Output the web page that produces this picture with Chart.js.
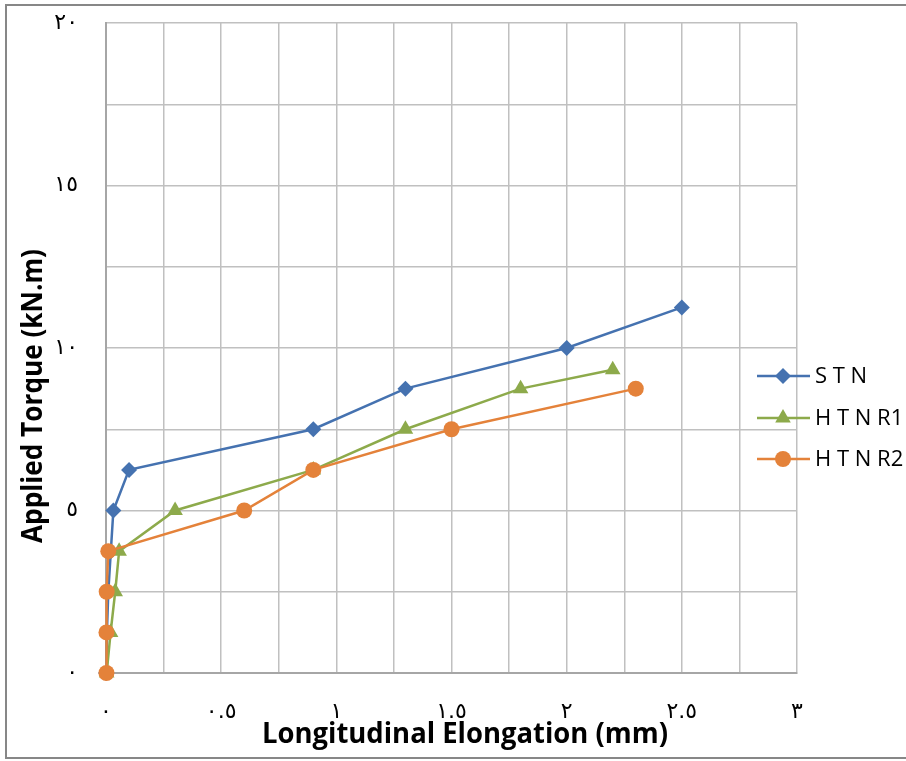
<!DOCTYPE html>
<html>
<head>
<meta charset="utf-8">
<script src="https://cdn.jsdelivr.net/npm/chart.js@4.4.1/dist/chart.umd.min.js"></script>
<style>
  html, body { margin: 0; padding: 0; background: #fff; }
  #wrap { width: 906px; height: 761px; position: relative; }
</style>
</head>
<body>
<div id="wrap"><canvas id="torqueChart"></canvas></div>
<script>
// values
const seriesNames = ['S T N', 'H T N R1', 'H T N R2'];

const stnX = [0, 0.004, 0.01, 0.021, 0.032, 0.1, 0.9, 1.3, 2.0, 2.5];
const stnY = [0, 1.25, 2.5, 3.75, 5, 6.25, 7.5, 8.75, 10, 11.25];

const htnr1X = [0.003, 0.02, 0.04, 0.057, 0.3, 0.9, 1.3, 1.8, 2.2];
const htnr1Y = [0, 1.25, 2.5, 3.75, 5, 6.25, 7.5, 8.75, 9.33];

const htnr2X = [0.002, 0.002, 0.003, 0.01, 0.6, 0.9, 1.5, 2.3];
const htnr2Y = [0, 1.25, 2.5, 3.75, 5, 6.25, 7.5, 8.75];

const xTickValues = [0, 0.5, 1, 1.5, 2, 2.5, 3];
const xTickLabels = ['٠', '٠.٥', '١', '١.٥', '٢', '٢.٥', '٣'];
const yTickValues = [0, 5, 10, 15, 20];
const yTickLabels = ['٠', '٥', '١٠', '١٥', '٢٠'];

const xTitle = 'Longitudinal Elongation (mm)';
const yTitle = 'Applied Torque (kN.m)';

const toPoints = (xs, ys) => xs.map((x, i) => ({ x: x, y: ys[i] }));

function tickText(value, values, labels) {
    const i = values.findIndex(v => Math.abs(v - value) < 1e-6);
    return i >= 0 ? labels[i] : '';
}

// border, axis titles and legend drawn by hand so they sit where the reference has them
const extras = {
    id: 'extras',
    beforeDraw(chart) {
        const ctx = chart.ctx;
        ctx.save();
        ctx.strokeStyle = '#878787';
        ctx.lineWidth = 2;
        ctx.strokeRect(6, 5, 920, 753);
        ctx.restore();
    },
    afterDraw(chart) {
        const ctx = chart.ctx;
        ctx.save();
        ctx.fillStyle = '#000';
        ctx.font = 'bold 28px "Open Sans"';
        ctx.textAlign = 'center';
        ctx.textBaseline = 'alphabetic';
        ctx.fillText(xTitle, 465, 743, 406);

        ctx.translate(42, 396);
        ctx.rotate(-Math.PI / 2);
        ctx.fillText(yTitle, 0, 0, 294);
        ctx.restore();

        // legend
        ctx.save();
        const rowY = [376, 418, 459];
        chart.data.datasets.forEach((ds, i) => {
            const y = rowY[i];
            ctx.strokeStyle = ds.borderColor;
            ctx.lineWidth = ds.borderWidth;
            ctx.beginPath();
            ctx.moveTo(757, y);
            ctx.lineTo(810, y);
            ctx.stroke();
            ctx.fillStyle = ds.pointBackgroundColor;
            ctx.strokeStyle = ds.pointBorderColor;
            Chart.helpers.drawPoint(ctx, {
                pointStyle: ds.pointStyle,
                radius: ds.pointRadius,
                rotation: 0,
                borderWidth: 0
            }, 783, y);
            ctx.fillStyle = '#000';
            ctx.font = '22px "Open Sans"';
            ctx.textAlign = 'left';
            ctx.textBaseline = 'middle';
            ctx.fillText(seriesNames[i], 815, y + 1);
        });
        ctx.restore();
    }
};

const ctx = document.getElementById('torqueChart').getContext('2d');
const torqueChart = new Chart(ctx, {
    type: 'scatter',
    data: {
        datasets: [{
            label: seriesNames[0],
            data: toPoints(stnX, stnY),
            borderColor: '#4572B0',
            pointBackgroundColor: '#4572B0',
            pointBorderColor: '#4572B0',
            pointStyle: 'rectRot',
            pointRadius: 8,
            order: 3
        }, {
            label: seriesNames[1],
            data: toPoints(htnr1X, htnr1Y),
            borderColor: '#8DAA4B',
            pointBackgroundColor: '#8DAA4B',
            pointBorderColor: '#8DAA4B',
            pointStyle: 'triangle',
            pointRadius: 9,
            order: 2
        }, {
            label: seriesNames[2],
            data: toPoints(htnr2X, htnr2Y),
            borderColor: '#E4823A',
            pointBackgroundColor: '#E4823A',
            pointBorderColor: '#E4823A',
            pointStyle: 'circle',
            pointRadius: 8,
            order: 1
        }].map(ds => Object.assign(ds, {
            showLine: true,
            borderWidth: 2.5,
            pointBorderWidth: 0,
            pointHoverRadius: ds.pointRadius,
            tension: 0,
            clip: false
        }))
    },
    options: {
        responsive: true,
        maintainAspectRatio: false,
        animation: false,
        layout: {
            padding: { left: 0, top: 23, right: 109, bottom: 0 }
        },
        plugins: {
            legend: { display: false },
            tooltip: { enabled: false },
            title: { display: false }
        },
        scales: {
            x: {
                type: 'linear',
                min: 0,
                max: 3,
                afterFit(scale) {
                    scale.height = 88;
                    scale.paddingLeft = 0;
                    scale.paddingRight = 0;
                },
                border: { color: '#A6A6A6', width: 2 },
                grid: { color: '#C0C0C0', lineWidth: 1.5, drawTicks: false },
                ticks: {
                    stepSize: 0.25,
                    autoSkip: false,
                    maxRotation: 0,
                    padding: 26,
                    color: '#000',
                    font: { family: '"DejaVu Sans"', size: 22 },
                    callback: value => tickText(value, xTickValues, xTickLabels)
                }
            },
            y: {
                type: 'linear',
                min: 0,
                max: 20,
                afterFit(scale) {
                    scale.width = 106;
                    scale.paddingTop = 0;
                    scale.paddingBottom = 0;
                },
                border: { color: '#A6A6A6', width: 2 },
                grid: { color: '#C0C0C0', lineWidth: 1.5, drawTicks: false },
                ticks: {
                    stepSize: 2.5,
                    autoSkip: false,
                    padding: 28,
                    color: '#000',
                    font: { family: '"DejaVu Sans"', size: 22 },
                    callback: value => tickText(value, yTickValues, yTickLabels)
                }
            }
        }
    },
    plugins: [extras]
});
</script>
</body>
</html>
